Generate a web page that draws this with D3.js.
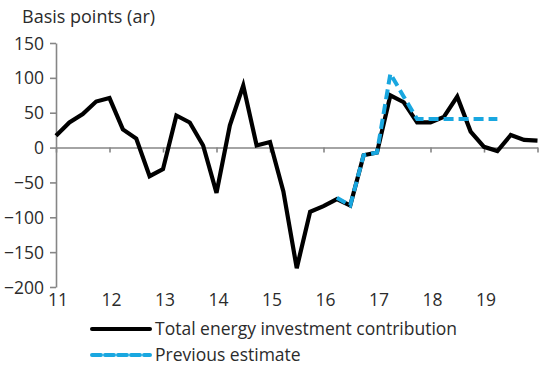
<!DOCTYPE html>
<html>
<head>
<meta charset="utf-8">
<script src="https://cdn.jsdelivr.net/npm/d3@7"></script>
<style>
  body { margin: 0; background: #fff; }
  svg { display: block; font-family: 'Open Sans', 'Noto Sans', sans-serif; }
</style>
</head>
<body>
<svg id="chart"></svg>
<script>
// Quarterly, 2011Q1 .. 2020Q1
const quarters = d3.range(37).map((i) => 11 + i / 4);
const totalContribution = [
  17, 36, 48, 66, 71, 26, 13, -41, -31, 46, 36, 3, -65, 32, 89, 3,
  8, -63, -173, -92, -84, -74, -83, -11, -7, 75, 65, 36, 36, 44, 73, 23,
  1, -5, 18, 11, 10,
];
// previous estimate only exists from 2016Q2 to 2019Q2
const previousEstimate = [
  null, null, null, null, null, null, null, null, null, null, null, null, null, null, null, null,
  null, null, null, null, null, -72, -83, -11, -7, 106, 73, 41, 41, 41, 41, 41,
  41, 41, null, null, null,
];
const yearTicks = [11, 12, 13, 14, 15, 16, 17, 18, 19, 20];
const yearLabels = ['11', '12', '13', '14', '15', '16', '17', '18', '19'];
const yTicks = [150, 100, 50, 0, -50, -100, -150, -200];

const width = 550;
const height = 372;
const BLUE = '#19a7e0';
const AXIS = '#868686';
const TEXT = '#2b2b2b';

const svg = d3.select('#chart').attr('width', width).attr('height', height);

const x = d3.scaleLinear().domain([11, 20]).range([56, 537.5]);
const y = d3.scaleLinear().domain([-200, 150]).range([287, 43]);

// y axis title
svg.append('text')
  .attr('x', 22)
  .attr('y', 23)
  .attr('font-size', 18)
  .attr('fill', TEXT)
  .text('Basis points (ar)');

// y axis
const yAxis = svg.append('g').attr('transform', `translate(${x(11)},0)`)
  .call(d3.axisLeft(y).tickValues(yTicks).tickSize(6).tickSizeOuter(0).tickPadding(6));
yAxis.select('.domain').attr('stroke', AXIS).attr('stroke-width', 1.6);
yAxis.selectAll('.tick line').attr('stroke', AXIS).attr('stroke-width', 1.6);
yAxis.selectAll('.tick text')
  .attr('font-size', 17.5)
  .attr('fill', TEXT)
  .attr('font-family', "'Open Sans', 'Noto Sans', sans-serif")
  .attr('dy', '0.35em');

// x axis along zero line
const xAxis = svg.append('g').attr('transform', `translate(0,${y(0)})`)
  .call(d3.axisBottom(x).tickValues(yearTicks).tickSize(5).tickSizeOuter(0).tickFormat(''));
xAxis.select('.domain').attr('stroke', AXIS).attr('stroke-width', 1.6);
xAxis.selectAll('.tick line').attr('stroke', AXIS).attr('stroke-width', 1.6);

// x labels at the bottom
svg.append('g')
  .selectAll('text')
  .data(yearLabels)
  .join('text')
  .attr('x', (d) => x(+d) + 2)
  .attr('y', 306)
  .attr('text-anchor', 'middle')
  .attr('font-size', 17.5)
  .attr('fill', TEXT)
  .text((d) => d);

const line = d3.line()
  .defined((d) => d[1] != null)
  .x((d) => x(d[0]))
  .y((d) => y(d[1]));

svg.append('path')
  .datum(quarters.map((q, i) => [q, totalContribution[i]]))
  .attr('d', line)
  .attr('fill', 'none')
  .attr('stroke', '#000')
  .attr('stroke-width', 4.2)
  .attr('stroke-linejoin', 'miter');

svg.append('path')
  .datum(quarters.map((q, i) => [q, previousEstimate[i]]))
  .attr('d', line)
  .attr('fill', 'none')
  .attr('stroke', BLUE)
  .attr('stroke-width', 4)
  .attr('stroke-dasharray', '10,5');

// legend
const legend = svg.append('g');
const items = [
  { label: 'Total energy investment contribution', color: '#000', dash: null, y: 329 },
  { label: 'Previous estimate', color: BLUE, dash: '9,4', y: 355 },
];
items.forEach((it) => {
  legend.append('line')
    .attr('x1', 92).attr('x2', 150)
    .attr('y1', it.y).attr('y2', it.y)
    .attr('stroke', it.color)
    .attr('stroke-width', 4)
    .attr('stroke-linecap', 'round')
    .attr('stroke-dasharray', it.dash);
  legend.append('text')
    .attr('x', 155)
    .attr('y', it.y + 6)
    .attr('font-size', 17.5)
    .attr('fill', TEXT)
    .text(it.label);
});
</script>
</body>
</html>
